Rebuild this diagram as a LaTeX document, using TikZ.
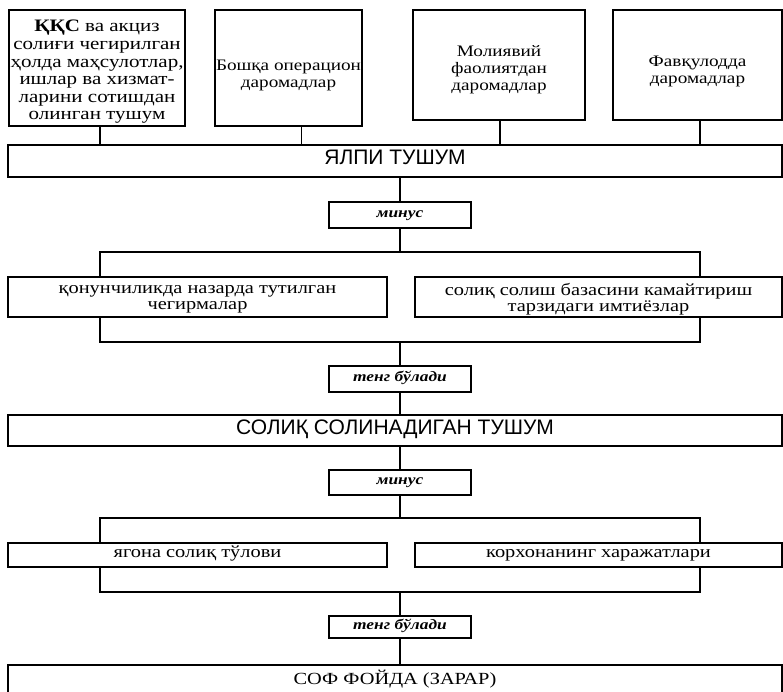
\documentclass[tikz,border=0pt]{standalone}
\usepackage{fontspec}
\setmainfont{Liberation Serif}[FakeStretch=1.2]
\newfontfamily\capsans{Liberation Sans}
\begin{document}
\begin{tikzpicture}[x=1pt,y=-1pt,
  box/.style={draw, line width=1.1pt, inner sep=0pt, align=center},
  txt/.style={inner sep=0pt, align=center},
  topfont/.style={font=\fontsize{16}{17}\selectfont},
  lowfont/.style={font=\fontsize{17}{16}\selectfont},
  oneline/.style={text height=1ex, text depth=0pt},
  capline/.style={text height=0.72em, text depth=0pt},
  opbox/.style={box, oneline, minimum width=142pt, font=\fontsize{14.5}{16}\selectfont\bfseries\itshape},
  wide/.style={box, capline, minimum width=774pt},
  conn/.style={line width=1.1pt}]
\useasboundingbox (0,0) rectangle (783,692);

% top row
\node[box, minimum width=176pt, minimum height=116pt] (t1) at (97,68) {};
\node[txt, font=\fontsize{17.5}{17.6}\selectfont] (t1x) at ([yshift=-4pt]t1.center)
  {\textbf{ҚҚС} ва акциз\\солиғи чегирилган\\ҳолда маҳсулотлар,\\ишлар ва хизмат-\\ларини сотишдан\\олинган тушум};
\node[box, minimum width=147pt, minimum height=116pt] (t2) at (288.5,68) {};
\node[txt, topfont] (t2x) at ([yshift=-7pt]t2.center) {Бошқа операцион\\даромадлар};
\node[box, minimum width=172pt, minimum height=110pt] (t3) at (499,65) {};
\node[txt, topfont] (t3x) at ([yshift=-5pt]t3.center) {Молиявий\\фаолиятдан\\даромадлар};
\node[box, minimum width=169pt, minimum height=110pt] (t4) at (697.5,65) {};
\node[txt, topfont] (t4x) at ([yshift=-6pt]t4.center) {Фавқулодда\\даромадлар};

% gross income
\node[wide, minimum height=32pt, font=\capsans\fontsize{21}{22}\selectfont] (ya) at (395,161) {ЯЛПИ ТУШУМ};

\draw[conn] ([xshift=3pt]t1.south) -- ([xshift=3pt]t1.south |- ya.north);
\draw[conn] ([xshift=13pt]t2.south) -- ([xshift=13pt]t2.south |- ya.north);
\draw[conn] ([xshift=1pt]t3.south) -- ([xshift=1pt]t3.south |- ya.north);
\draw[conn] ([xshift=2.5pt]t4.south) -- ([xshift=2.5pt]t4.south |- ya.north);

% minus 1
\node[opbox, minimum height=26pt] (m1) at (400,215) {минус};
\draw[conn] (m1.north |- ya.south) -- (m1.north);

\coordinate (br1) at (400,252);
\coordinate (br1l) at (100,252);
\coordinate (br1r) at (700,252);
\node[box, minimum width=379pt, minimum height=40pt] (l1) at (197.5,297) {};
\node[txt, lowfont] (l1x) at ([yshift=-2.5pt]l1.center) {қонунчиликда назарда тутилган\\чегирмалар};
\node[box, minimum width=367pt, minimum height=40pt] (l2) at (598.5,297) {};
\node[txt, lowfont] (l2x) at ([yshift=-2.5pt]l2.center) {солиқ солиш базасини камайтириш\\тарзидаги имтиёзлар};
\draw[conn] (m1.south) -- (br1);
\draw[conn] (l1.north -| br1l) -- (br1l) -- (br1r) -- (l2.north -| br1r);

\coordinate (bk1l) at (100,342);
\coordinate (bk1r) at (700,342);
\draw[conn] (l1.south -| bk1l) -- (bk1l) -- (bk1r) -- (l2.south -| bk1r);

% equals 1
\node[opbox, minimum height=26pt] (e1) at (400,379) {тенг бўлади};
\draw[conn] (e1.north |- bk1l) -- (e1.north);

% taxable income
\node[wide, minimum height=31pt, font=\capsans\fontsize{21}{22}\selectfont] (st) at (395,430.5) {СОЛИҚ СОЛИНАДИГАН ТУШУМ};
\draw[conn] (e1.south) -- (e1.south |- st.north);

% minus 2
\node[opbox, minimum height=25pt] (m2) at (400,482.5) {минус};
\draw[conn] (m2.north |- st.south) -- (m2.north);

\coordinate (br2) at (400,518);
\coordinate (br2l) at (100,518);
\coordinate (br2r) at (700,518);
\node[box, oneline, lowfont, minimum width=379pt, minimum height=24pt] (l3) at (197.5,555) {ягона солиқ тўлови};
\node[box, oneline, lowfont, minimum width=367pt, minimum height=24pt] (l4) at (598.5,555) {корхонанинг харажатлари};
\draw[conn] (m2.south) -- (br2);
\draw[conn] (l3.north -| br2l) -- (br2l) -- (br2r) -- (l4.north -| br2r);

\coordinate (bk2l) at (100,592);
\coordinate (bk2r) at (700,592);
\draw[conn] (l3.south -| bk2l) -- (bk2l) -- (bk2r) -- (l4.south -| bk2r);

% equals 2
\node[opbox, minimum height=22pt] (e2) at (400,627) {тенг бўлади};
\draw[conn] (e2.north |- bk2l) -- (e2.north);

% net profit
\node[wide, minimum height=32pt, font=\fontsize{17}{20}\selectfont] (sf) at (395,681) {СОФ ФОЙДА (ЗАРАР)};
\draw[conn] (e2.south) -- (e2.south |- sf.north);
\end{tikzpicture}
\end{document}
